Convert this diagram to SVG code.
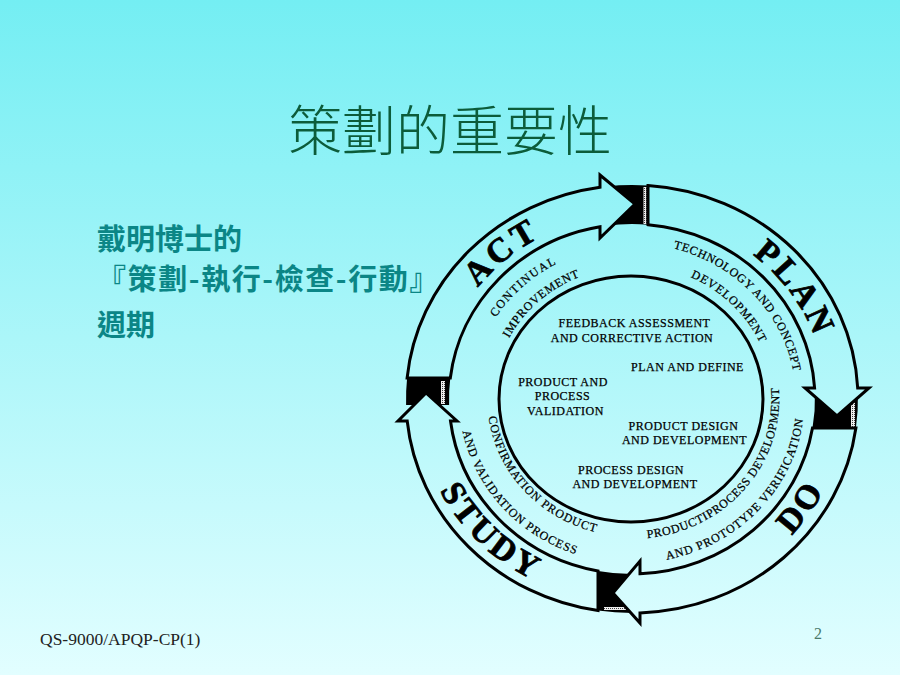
<svg xmlns="http://www.w3.org/2000/svg" width="900" height="675" viewBox="0 0 900 675">
<defs>
<linearGradient id="bg" gradientUnits="userSpaceOnUse" x1="0" y1="0" x2="0" y2="675">
<stop offset="0" stop-color="#74EEF3"/>
<stop offset="1" stop-color="#E2FEFF"/>
</linearGradient>
<pattern id="dither" width="2" height="2" patternUnits="userSpaceOnUse">
<rect width="2" height="2" fill="#eeeeee"/>
<rect width="1" height="1" fill="#444444"/>
</pattern>
<path id="pAct" d="M 476.5,509.0 A 194 184 0 0 1 765.0,265.1"/>
<path id="pPlan" d="M 537.9,238.1 A 194 184 0 0 1 754.1,542.0"/>
<path id="pDo" d="M 532.1,579.6 A 215 204 0 0 0 763.5,237.6"/>
<path id="pStudy" d="M 471.0,263.8 A 215 204 0 0 0 765.8,558.7"/>
<path id="pCont" d="M 506.9,495.3 A 161 153 0 0 1 737.6,283.5"/>
<path id="pImpr" d="M 523.6,480.9 A 138.5 131.6 0 0 1 723.8,300.4"/>
<path id="pTech" d="M 534.0,274.1 A 164 155.8 0 0 1 751.4,505.8"/>
<path id="pDev" d="M 543.8,294.4 A 141 134 0 0 1 737.9,487.4"/>
<path id="pProd" d="M 550.0,515.0 A 147 139.7 0 0 0 733.9,298.3"/>
<path id="pProto" d="M 528.9,530.5 A 172.6 164 0 0 0 757.6,286.5"/>
<path id="pConf" d="M 528.4,302.6 A 145 137.8 0 0 0 716.4,511.0"/>
<path id="pVal" d="M 509.2,283.2 A 173 164.4 0 0 0 731.7,533.3"/>
</defs>
<style>
.arrow{fill:url(#bg);stroke:#000;stroke-width:3;stroke-linejoin:miter}
.block{fill:#000}
.strip{fill:url(#dither)}
.big{font-family:"Liberation Serif",serif;font-weight:bold;font-size:34px;letter-spacing:3.5px;fill:#000;stroke:#000;stroke-width:0.8px}
.sm{font-family:"Liberation Serif",serif;font-size:12px;letter-spacing:0.9px;fill:#000;stroke:#000;stroke-width:0.25px}
.ctr{font-family:"Liberation Serif",serif;font-size:12px;letter-spacing:0.5px;fill:#000;stroke:#000;stroke-width:0.25px;text-anchor:middle}
.cjk{font-family:"Noto Sans CJK TC","Noto Sans CJK SC",sans-serif}
</style>
<rect width="900" height="675" fill="url(#bg)"/>

<g id="title">
<text x="450" y="151" class="cjk" font-size="54" font-weight="300" fill="#0C5C3A" text-anchor="middle">策劃的重要性</text>
</g>

<g id="subtitle" class="cjk" font-size="29" font-weight="bold" fill="#0B8686">
<text x="97" y="250">戴明博士的</text>
<text x="97" y="290" letter-spacing="1.6">『策劃-執行-檢查-行動』</text>
<text x="97" y="336">週期</text>
</g>

<g id="connectors">
<path class="block" d="M 606,186.4 A 226 214 0 0 1 648,185.5 L 648,224.7 A 183 175 0 0 0 606,225.8 Z"/>
<path class="block" d="M 857.9,394 A 226 214 0 0 1 855.9,428 L 812.5,428 A 183 175 0 0 0 814.9,394 Z"/>
<path class="block" d="M 632,613 A 226 214 0 0 1 598,610.6 L 598,571 A 183 175 0 0 0 632,574 Z"/>
<path class="block" d="M 406.1,405 A 226 214 0 0 1 407.1,378 L 450.3,378 A 183 175 0 0 0 449.1,405 Z"/>
<rect class="strip" x="643.5" y="187" width="3" height="37"/>
<rect class="strip" x="851" y="398" width="4" height="29"/>
<rect class="strip" x="441" y="381" width="4" height="23"/>
<rect class="strip" x="604" y="607" width="22" height="3"/>
</g>

<g id="act">
<path class="arrow" d="M 407.1,378 A 226 214 0 0 1 600,187.2 L 600,175 L 635,204 L 600,238 L 600,226.7 A 183 175 0 0 0 450.3,378 Z"/>
<text class="big"><textPath href="#pAct" startOffset="50%" text-anchor="middle">ACT</textPath></text>
</g>
<g id="plan">
<path class="arrow" d="M 648,185.5 A 226 214 0 0 1 857.7,388 L 869,388 L 837,416 L 805,388 L 814.6,388 A 183 175 0 0 0 648,224.7 Z"/>
<text class="big"><textPath href="#pPlan" startOffset="50%" text-anchor="middle">PLAN</textPath></text>
</g>
<g id="do">
<path class="arrow" d="M 855.9,428 A 226 214 0 0 1 640,612.9 L 640,623 L 613,593 L 640,561 L 640,573.8 A 183 175 0 0 0 812.5,428 Z"/>
<text class="big"><textPath href="#pDo" startOffset="50%" text-anchor="middle">DO</textPath></text>
</g>
<g id="study">
<path class="arrow" d="M 598,610.6 A 226 214 0 0 1 407.2,421 L 398,421 L 426,393 L 457,421 L 450.5,421 A 183 175 0 0 0 598,571 Z"/>
<text class="big"><textPath href="#pStudy" startOffset="50%" text-anchor="middle">STUDY</textPath></text>
</g>

<g id="inner-circle">
<ellipse cx="631" cy="399" rx="132" ry="123" fill="none" stroke="#000" stroke-width="3"/>
</g>

<g id="ring-labels">
<text class="sm" style="letter-spacing:1.5px"><textPath href="#pCont" startOffset="50%" text-anchor="middle">CONTINUAL</textPath></text>
<text class="sm" style="letter-spacing:0.75px"><textPath href="#pImpr" startOffset="50%" text-anchor="middle">IMPROVEMENT</textPath></text>
<text class="sm" style="letter-spacing:0.65px"><textPath href="#pTech" startOffset="50%" text-anchor="middle">TECHNOLOGY AND CONCEPT</textPath></text>
<text class="sm"><textPath href="#pDev" startOffset="50%" text-anchor="middle">DEVELOPMENT</textPath></text>
<text class="sm" style="letter-spacing:0.67px"><textPath href="#pProd" startOffset="50%" text-anchor="middle">PRODUCTIPROCESS DEVELOPMENT</textPath></text>
<text class="sm" style="letter-spacing:1px"><textPath href="#pProto" startOffset="50%" text-anchor="middle">AND PROTOTYPE VERIFICATION</textPath></text>
<text class="sm"><textPath href="#pConf" startOffset="50%" text-anchor="middle">CONFIRMATION PRODUCT</textPath></text>
<text class="sm"><textPath href="#pVal" startOffset="50%" text-anchor="middle">AND VALIDATION PROCESS</textPath></text>
</g>

<g id="center-labels">
<text class="ctr" x="634.5" y="327">FEEDBACK ASSESSMENT</text>
<text class="ctr" x="632" y="342">AND CORRECTIVE ACTION</text>
<text class="ctr" x="687.5" y="371">PLAN AND DEFINE</text>
<text class="ctr" x="563" y="386">PRODUCT AND</text>
<text class="ctr" x="562.5" y="400">PROCESS</text>
<text class="ctr" x="565.5" y="415">VALIDATION</text>
<text class="ctr" x="683.5" y="430">PRODUCT DESIGN</text>
<text class="ctr" x="684.5" y="444">AND DEVELOPMENT</text>
<text class="ctr" x="631" y="474">PROCESS DESIGN</text>
<text class="ctr" x="635" y="488">AND DEVELOPMENT</text>
</g>

<g id="footer">
<text x="40" y="645" font-family="Liberation Serif" font-size="17.5" fill="#222222">QS-9000/APQP-CP(1)</text>
<text x="818" y="639" font-family="Liberation Serif" font-size="16" fill="#4A7A6A" text-anchor="middle">2</text>
</g>
</svg>
